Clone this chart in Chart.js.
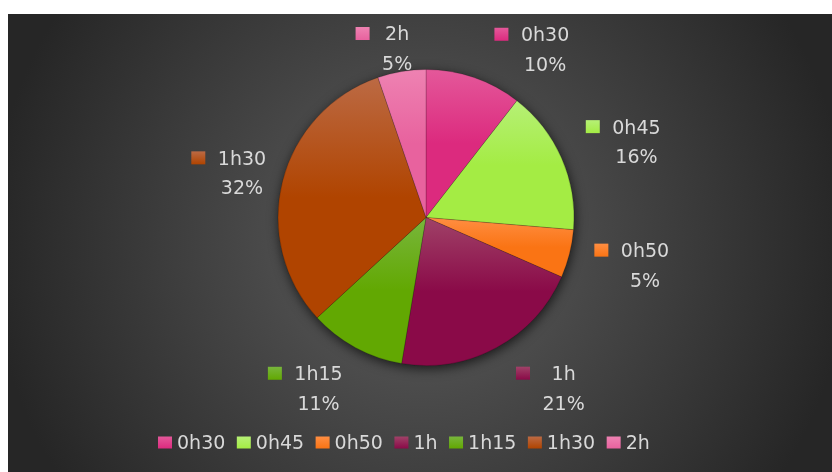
<!DOCTYPE html>
<html>
<head>
<meta charset="utf-8">
<script src="https://cdn.jsdelivr.net/npm/chart.js@4.4.1/dist/chart.umd.min.js"></script>
<style>
  html, body { margin: 0; padding: 0; background: #fff; }
  #box {
    position: absolute; left: 8px; top: 14px; width: 824px; height: 458px;
    background: radial-gradient(circle 430px at 50% 50%, #5e5e5e 0%, #262626 100%);
  }
  canvas { display: block; }
</style>
</head>
<body>
<div id="box"><canvas id="myChart" width="824" height="458"></canvas></div>
<script>
var categories = ['0h30', '0h45', '0h50', '1h', '1h15', '1h30', '2h'];
var counts = [2, 3, 1, 4, 2, 6, 1];
var percentLabels = ['10%', '16%', '5%', '21%', '11%', '32%', '5%'];

var baseColors  = ['#dc2a7e', '#a4ec44', '#fa7414', '#8a0a48', '#62a802', '#b04400', '#e8629e'];
var lightColors = ['#e4589a', '#b6f076', '#ff8e42', '#a04268', '#78b63c', '#bc6a44', '#ee82b2'];

var textColor = '#d9d9d9';
var font = '19px "DejaVu Sans"';

// where each data label sits: [angle shift from slice middle (deg), distance / radius]
var labelPlacement = [[16.3, 1.394], [3.8, 1.512], [-2, 1.514], [-10.5, 1.48], [3.8, 1.362], [-0.5, 1.28], [-0.2, 1.16]];

function keyFill(ctx, i, top, h) {
  var g = ctx.createLinearGradient(0, top, 0, top + h);
  g.addColorStop(0, lightColors[i]);
  g.addColorStop(1, baseColors[i]);
  return g;
}

function drawKey(ctx, i, x, y, w, h) {
  ctx.fillStyle = keyFill(ctx, i, y, h);
  ctx.fillRect(x, y, w, h);
}

// vertical gradient over the slice's own extent
function sliceFill(c) {
  var i = c.dataIndex;
  var a = c.element;
  if (!a || a.outerRadius === undefined || isNaN(a.y)) return baseColors[i];
  var ys = [a.y, a.y + Math.sin(a.startAngle) * a.outerRadius, a.y + Math.sin(a.endAngle) * a.outerRadius];
  [-Math.PI / 2, Math.PI / 2, 3 * Math.PI / 2].forEach(function (t) {
    if (t >= a.startAngle && t <= a.endAngle) ys.push(a.y + Math.sin(t) * a.outerRadius);
  });
  var top = Math.min.apply(null, ys), bottom = Math.max.apply(null, ys);
  var g = c.chart.ctx.createLinearGradient(0, top, 0, bottom);
  g.addColorStop(0, lightColors[i]);
  g.addColorStop(0.5, baseColors[i]);
  g.addColorStop(1, baseColors[i]);
  return g;
}

var pieShadow = {
  id: 'pieShadow',
  beforeDatasetsDraw: function (chart) {
    var a = chart.getDatasetMeta(0).data[0];
    if (!a) return;
    var ctx = chart.ctx;
    ctx.save();
    ctx.shadowColor = 'rgba(0,0,0,0.7)';
    ctx.shadowBlur = 12;
    ctx.shadowOffsetX = 1;
    ctx.shadowOffsetY = 3;
    ctx.fillStyle = '#3a3a3a';
    ctx.beginPath();
    ctx.arc(a.x, a.y, a.outerRadius, 0, Math.PI * 2);
    ctx.fill();
    ctx.restore();
  }
};

var pieLabels = {
  id: 'pieLabels',
  afterDatasetsDraw: function (chart) {
    var ctx = chart.ctx;
    var arcs = chart.getDatasetMeta(0).data;
    ctx.save();
    ctx.font = font;
    ctx.textAlign = 'center';
    ctx.textBaseline = 'alphabetic';
    arcs.forEach(function (a, i) {
      var p = labelPlacement[i];
      var mid = (a.startAngle + a.endAngle) / 2 + p[0] * Math.PI / 180;
      var d = a.outerRadius * p[1];
      var cx = a.x + Math.cos(mid) * d;
      var cy = a.y + Math.sin(mid) * d;
      var y1 = cy - 14.75, y2 = cy + 14.75;
      var w = Math.max(ctx.measureText(categories[i]).width, ctx.measureText(percentLabels[i]).width);
      drawKey(ctx, i, cx - w / 2 - 12.5 - 14, y1 - 6.5, 14, 13);
      ctx.fillStyle = textColor;
      ctx.fillText(categories[i], cx, y1 + 6.9);
      ctx.fillText(percentLabels[i], cx, y2 + 6.9);
    });
    ctx.restore();
  }
};

var bottomLegend = {
  id: 'bottomLegend',
  afterDraw: function (chart) {
    var ctx = chart.ctx;
    ctx.save();
    ctx.font = font;
    ctx.textAlign = 'left';
    ctx.textBaseline = 'alphabetic';
    var x = 150, cy = 428.5;
    categories.forEach(function (name, i) {
      drawKey(ctx, i, x, cy - 6, 14, 12);
      ctx.fillStyle = textColor;
      ctx.fillText(name, x + 19, cy + 6.9);
      x += 19 + ctx.measureText(name).width + 11.5;
    });
    ctx.restore();
  }
};

var ctx = document.getElementById('myChart').getContext('2d');
var chart = new Chart(ctx, {
  type: 'pie',
  data: {
    labels: categories,
    datasets: [{
      data: counts,
      backgroundColor: sliceFill,
      borderColor: 'rgba(0,0,0,0.18)',
      borderWidth: 1
    }]
  },
  options: {
    responsive: false,
    animation: false,
    layout: { padding: { top: 55, bottom: 106, left: 12, right: 0 } },
    plugins: {
      legend: { display: false },
      tooltip: { enabled: false }
    }
  },
  plugins: [pieShadow, pieLabels, bottomLegend]
});
// second pass so the gradients see the finished slice geometry
chart.update();
</script>
</body>
</html>
